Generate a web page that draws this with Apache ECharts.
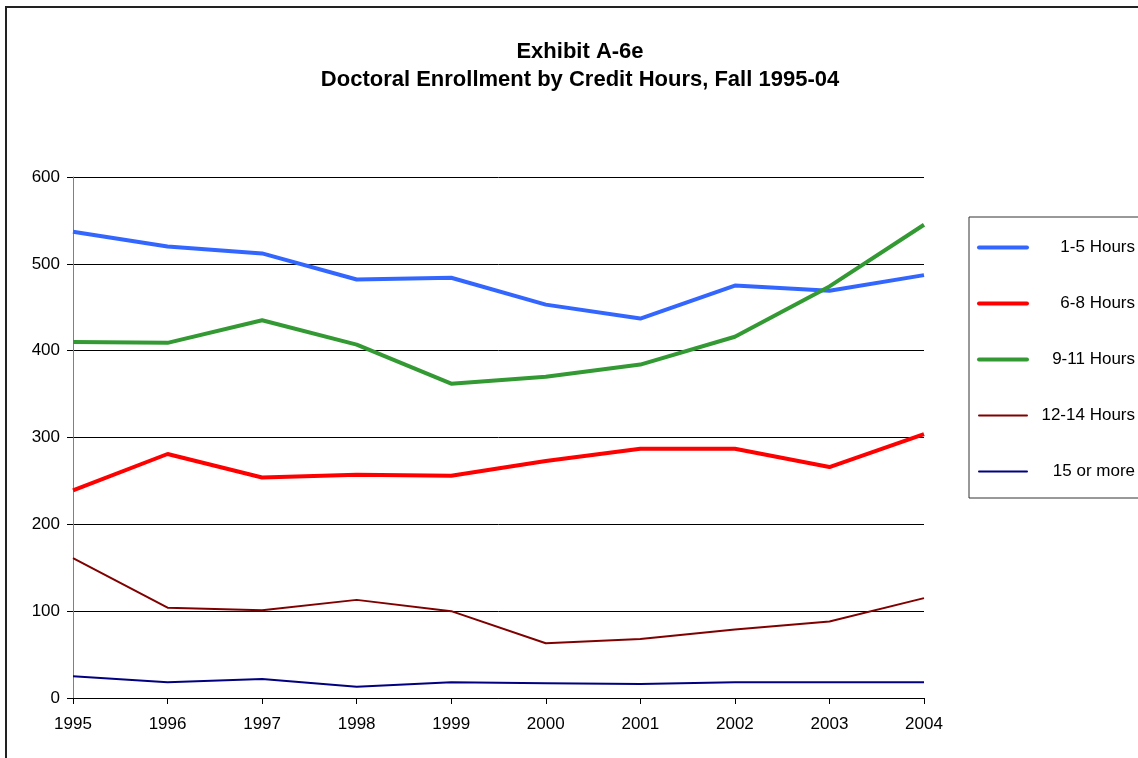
<!DOCTYPE html>
<html>
<head>
<meta charset="utf-8">
<script src="https://cdn.jsdelivr.net/npm/echarts@6/dist/echarts.min.js"></script>
<style>
  html, body { margin: 0; padding: 0; background: #fff; }
  #chart { width: 1138px; height: 758px; }
</style>
</head>
<body>
<div id="chart"></div>
<script>
var years = ['1995', '1996', '1997', '1998', '1999', '2000', '2001', '2002', '2003', '2004'];
var yTicks = [0, 100, 200, 300, 400, 500, 600];

var hours1to5   = [537, 520, 512, 482, 484, 453, 437, 475, 469, 487];
var hours6to8   = [239, 281, 254, 257, 256, 273, 287, 287, 266, 304];
var hours9to11  = [410, 409, 435, 407, 362, 370, 384, 416, 474, 545];
var hours12to14 = [161, 104, 101, 113, 100, 63, 68, 79, 88, 115];
var hours15plus = [25, 18, 22, 13, 18, 17, 16, 18, 18, 18];

var seriesNames = ['1-5 Hours', '6-8 Hours', '9-11 Hours', '12-14 Hours', '15 or more'];
var seriesData = [hours1to5, hours6to8, hours9to11, hours12to14, hours15plus];
var colors = ['#3366ff', '#ff0000', '#339933', '#800000', '#000080'];
var widths = [4, 4, 4, 2, 2];

var font = '"Liberation Sans", Arial, sans-serif';

var chart = echarts.init(document.getElementById('chart'));

var series = [];
var legendItems = [];
for (var i = 0; i < seriesNames.length; i++) {
    series.push({
        name: seriesNames[i],
        type: 'line',
        data: seriesData[i],
        symbol: 'none',
        smooth: false,
        animation: false,
        lineStyle: { color: colors[i], width: widths[i] },
        itemStyle: { color: colors[i] }
    });
    legendItems.push({
        name: seriesNames[i],
        lineStyle: { color: colors[i], width: widths[i], cap: 'round' }
    });
}

var option = {
    backgroundColor: '#fff',
    animation: false,
    graphic: [
        {
            type: 'rect',
            shape: { x: 6, y: 7, width: 1300, height: 900 },
            style: { fill: 'none', stroke: '#222', lineWidth: 2 }
        },
        {
            type: 'text',
            x: 580, y: 66,
            style: {
                text: 'Exhibit A-6e\nDoctoral Enrollment by Credit Hours, Fall 1995-04',
                align: 'center', verticalAlign: 'middle',
                font: 'bold 22px ' + font,
                lineHeight: 28,
                fill: '#000'
            }
        }
    ],
    legend: {
        orient: 'vertical',
        left: 969,
        top: 217,
        padding: [22, 30, 18, 8],
        itemGap: 39,
        itemWidth: 48,
        itemHeight: 14,
        borderColor: '#333',
        borderWidth: 1,
        data: legendItems,
        itemStyle: { opacity: 0 },
        formatter: '{a|{name}}',
        textStyle: {
            fontFamily: font,
            fontSize: 17,
            color: '#000',
            rich: {
                a: { width: 103, align: 'right', fontFamily: font, fontSize: 17, color: '#000' }
            }
        }
    },
    grid: { left: 73, right: 214, top: 177, bottom: 60 },
    xAxis: {
        type: 'category',
        data: years,
        boundaryGap: false,
        axisLine: { lineStyle: { color: '#000', width: 1 } },
        axisTick: { show: true, length: 6, inside: false, lineStyle: { color: '#000' } },
        axisLabel: { fontFamily: font, fontSize: 17, color: '#000', margin: 18 },
        splitLine: { show: false }
    },
    yAxis: {
        type: 'value',
        min: yTicks[0],
        max: yTicks[yTicks.length - 1],
        interval: 100,
        axisLine: { show: true, lineStyle: { color: '#808080', width: 1 } },
        axisTick: { show: true, length: 6, inside: false, lineStyle: { color: '#000' } },
        axisLabel: { fontFamily: font, fontSize: 17, color: '#000', margin: 13 },
        splitLine: { show: true, lineStyle: { color: '#000', width: 1 } }
    },
    series: series
};

chart.setOption(option);
</script>
</body>
</html>
